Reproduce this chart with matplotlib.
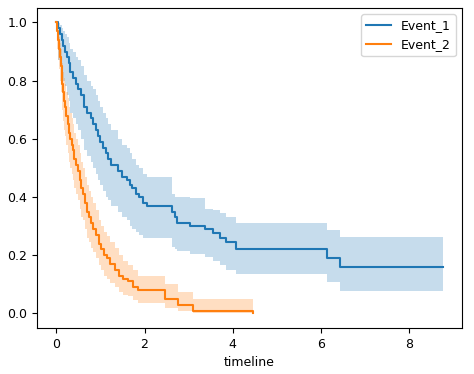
import matplotlib
matplotlib.use("Agg")
import matplotlib.pyplot as plt

# Event_1 (Kaplan-Meier estimate, step-post)
e1_time = [0.0, 0.04, 0.08, 0.12, 0.16, 0.20, 0.24, 0.28, 0.32, 0.38, 0.44, 0.50, 0.56, 0.62,
           0.70, 0.78, 0.84, 0.90, 0.95, 1.00, 1.06, 1.12, 1.18, 1.24, 1.40, 1.50, 1.60, 1.66,
           1.72, 1.80, 1.88, 1.96, 2.06, 2.62, 2.68, 2.74, 3.04, 3.36, 3.55, 3.72, 3.84, 4.07,
           6.14, 6.42, 8.76]
e1_surv = [1.0, 0.98, 0.96, 0.94, 0.92, 0.90, 0.88, 0.86, 0.83, 0.81, 0.79, 0.77, 0.75, 0.71,
           0.69, 0.67, 0.65, 0.63, 0.61, 0.59, 0.57, 0.55, 0.53, 0.51, 0.49, 0.47, 0.46, 0.44,
           0.43, 0.41, 0.40, 0.38, 0.37, 0.35, 0.33, 0.31, 0.30, 0.29, 0.275, 0.26, 0.245, 0.22,
           0.19, 0.16, 0.16]
e1_lower = [1.0, 0.87, 0.85, 0.83, 0.80, 0.78, 0.75, 0.73, 0.69, 0.67, 0.65, 0.63, 0.60, 0.56,
            0.54, 0.52, 0.50, 0.48, 0.46, 0.44, 0.42, 0.40, 0.39, 0.37, 0.35, 0.33, 0.32, 0.30,
            0.29, 0.28, 0.27, 0.26, 0.26, 0.23, 0.22, 0.215, 0.205, 0.194, 0.18, 0.166, 0.15, 0.134,
            0.107, 0.076, 0.076]
e1_upper = [1.0, 0.997, 0.99, 0.98, 0.97, 0.96, 0.95, 0.93, 0.91, 0.90, 0.88, 0.87, 0.85, 0.82,
            0.80, 0.78, 0.77, 0.75, 0.73, 0.71, 0.69, 0.67, 0.65, 0.63, 0.60, 0.58, 0.57, 0.55,
            0.53, 0.51, 0.50, 0.48, 0.47, 0.41, 0.40, 0.40, 0.395, 0.36, 0.355, 0.345, 0.33, 0.31,
            0.286, 0.262, 0.262]

# Event_2
e2_time = [0.0, 0.02, 0.04, 0.06, 0.08, 0.10, 0.12, 0.14, 0.16, 0.18, 0.20, 0.23, 0.26, 0.29,
           0.32, 0.35, 0.38, 0.41, 0.45, 0.49, 0.53, 0.57, 0.61, 0.65, 0.69, 0.73, 0.78, 0.84,
           0.90, 0.96, 1.02, 1.08, 1.14, 1.22, 1.32, 1.42, 1.52, 1.62, 1.74, 1.86, 2.46, 2.76,
           3.10, 4.45]
e2_surv = [1.0, 0.97, 0.94, 0.91, 0.88, 0.85, 0.82, 0.79, 0.76, 0.73, 0.71, 0.68, 0.65, 0.62,
           0.60, 0.58, 0.56, 0.53, 0.51, 0.49, 0.46, 0.43, 0.41, 0.38, 0.35, 0.33, 0.31, 0.29,
           0.27, 0.24, 0.22, 0.20, 0.19, 0.17, 0.15, 0.13, 0.12, 0.11, 0.09, 0.08, 0.05, 0.03,
           0.01, 0.0]
e2_lower = [1.0, 0.91, 0.87, 0.84, 0.80, 0.76, 0.73, 0.70, 0.66, 0.63, 0.61, 0.58, 0.55, 0.52,
            0.50, 0.48, 0.46, 0.43, 0.41, 0.39, 0.36, 0.33, 0.32, 0.29, 0.26, 0.245, 0.225, 0.21,
            0.19, 0.165, 0.15, 0.13, 0.12, 0.105, 0.09, 0.075, 0.065, 0.06, 0.045, 0.035, 0.018, 0.008,
            0.001, 0.001]
e2_upper = [1.0, 0.99, 0.97, 0.95, 0.93, 0.91, 0.89, 0.86, 0.83, 0.81, 0.79, 0.76, 0.74, 0.71,
            0.69, 0.67, 0.65, 0.62, 0.60, 0.58, 0.55, 0.52, 0.50, 0.47, 0.44, 0.42, 0.40, 0.38,
            0.355, 0.32, 0.30, 0.28, 0.265, 0.245, 0.225, 0.20, 0.18, 0.165, 0.15, 0.13, 0.10, 0.075,
            0.048, 0.048]

series = [
    ("Event_1", e1_time, e1_surv, e1_lower, e1_upper, "#1f77b4"),
    ("Event_2", e2_time, e2_surv, e2_lower, e2_upper, "#ff7f0e"),
]

plt.rcParams["font.size"] = 9
fig, ax = plt.subplots(figsize=(4.74, 3.74), dpi=100)
for label, t, s, lo, hi, color in series:
    ax.fill_between(t, lo, hi, step="post", color=color, alpha=0.25, linewidth=0)
    ax.plot(t, s, drawstyle="steps-post", color=color, label=label)

ax.set_xlabel("timeline")
ax.legend(loc="upper right")
fig.subplots_adjust(left=0.078, right=0.975, bottom=0.123, top=0.979)
fig.savefig("out.png", dpi=100)
